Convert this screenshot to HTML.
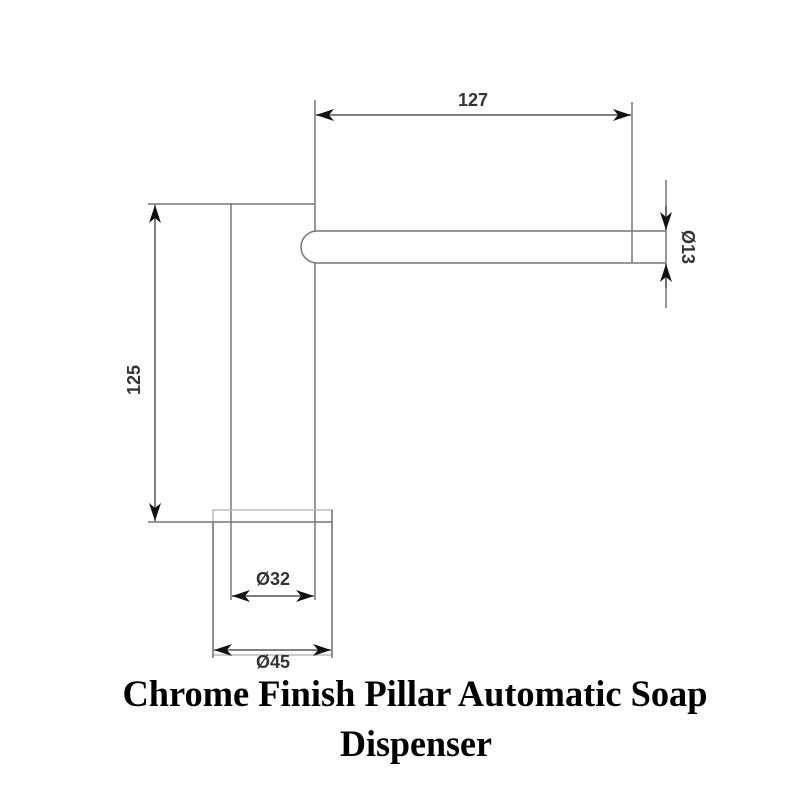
<!DOCTYPE html>
<html><head><meta charset="utf-8"><style>html,body{margin:0;padding:0;background:#fff}svg{display:block}</style></head>
<body>
<svg width="800" height="800" viewBox="0 0 800 800" xmlns="http://www.w3.org/2000/svg">
<defs>
<marker id="a" viewBox="0 0 18 12" refX="18" refY="6" markerWidth="18" markerHeight="12" markerUnits="userSpaceOnUse" orient="auto-start-reverse">
<path d="M0,0 L18,6 L0,12 L5,6 Z" fill="#111"/>
</marker>
</defs>
<g stroke="#777" stroke-width="1.5" fill="none">
<line x1="148" y1="204" x2="315" y2="204"/>
<line x1="231" y1="204" x2="231" y2="600"/>
<line x1="315" y1="100" x2="315" y2="231"/>
<line x1="315" y1="263" x2="315" y2="600"/>
<path d="M666,231 L317,231 A16,16 0 0 0 317,263 L666,263"/>
<line x1="632" y1="102" x2="632" y2="263"/>
<line x1="666" y1="180" x2="666" y2="308"/>
<rect x="213" y="510" width="119" height="145" stroke="#bbb"/>
<line x1="213" y1="522" x2="213" y2="658"/>
<line x1="332" y1="510" x2="332" y2="658"/>
<line x1="148" y1="522" x2="332" y2="522"/>
</g>
<g stroke="#555" stroke-width="1.5" fill="none">
<line x1="316" y1="115" x2="631" y2="115" marker-start="url(#a)" marker-end="url(#a)"/>
<line x1="155" y1="205" x2="155" y2="521" marker-start="url(#a)" marker-end="url(#a)"/>
<line x1="232" y1="596" x2="314" y2="596" marker-start="url(#a)" marker-end="url(#a)"/>
<line x1="214" y1="650" x2="331" y2="650" marker-start="url(#a)" marker-end="url(#a)"/>
<line x1="666" y1="206" x2="666" y2="230" marker-end="url(#a)"/>
<line x1="666" y1="288" x2="666" y2="264" marker-end="url(#a)"/>
</g>
<g font-family="'Liberation Sans',sans-serif" font-weight="bold" font-size="18" fill="#333" text-anchor="middle">
<text x="473" y="106">127</text>
<text x="273" y="585">Ø32</text>
<text x="273" y="668">Ø45</text>
<text transform="translate(140,380) rotate(-90)">125</text>
<text transform="translate(682,247) rotate(90)">Ø13</text>
</g>
<g font-family="'Liberation Serif',serif" font-weight="bold" font-size="37" fill="#000" text-anchor="middle">
<text x="415" y="706" textLength="585" lengthAdjust="spacingAndGlyphs">Chrome Finish Pillar Automatic Soap</text>
<text x="416" y="756" textLength="152" lengthAdjust="spacingAndGlyphs">Dispenser</text>
</g>
</svg>
</body></html>
